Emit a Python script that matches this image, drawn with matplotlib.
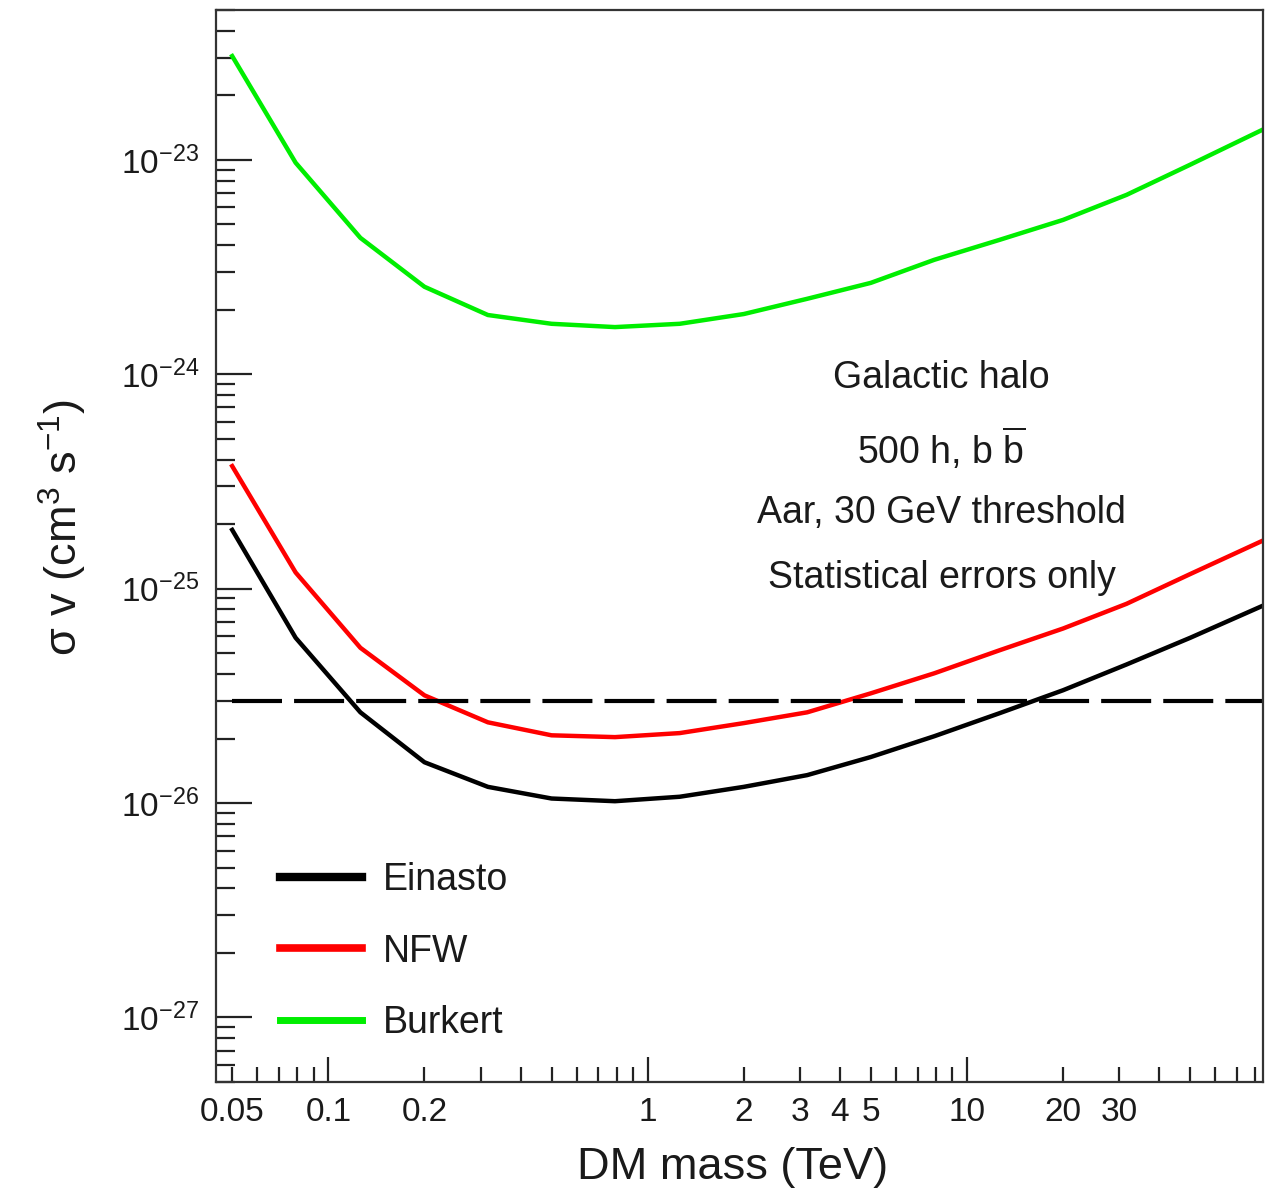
import matplotlib
matplotlib.use('Agg')
import matplotlib.pyplot as plt
from matplotlib.ticker import LogLocator, FixedLocator, FuncFormatter, NullFormatter
import numpy as np

plt.rcParams['font.family'] = ['Liberation Sans', 'DejaVu Sans']
plt.rcParams['mathtext.fontset'] = 'custom'
plt.rcParams['mathtext.rm'] = 'Liberation Sans'
plt.rcParams['mathtext.it'] = 'Liberation Sans:italic'
plt.rcParams['mathtext.bf'] = 'Liberation Sans:bold'

# DM mass (TeV)
mass = [0.05, 0.079, 0.126, 0.2, 0.316, 0.5, 0.79, 1.26, 2.0, 3.16, 5.0, 7.9, 12.6, 20.0, 31.6, 50.0, 84.0]

# <sigma v> upper limits (cm^3 s^-1)
einasto = [1.88e-25, 5.9e-26, 2.65e-26, 1.55e-26, 1.19e-26, 1.05e-26, 1.02e-26, 1.07e-26, 1.19e-26,
           1.35e-26, 1.64e-26, 2.05e-26, 2.62e-26, 3.36e-26, 4.43e-26, 5.9e-26, 8.3e-26]
nfw = [3.73e-25, 1.19e-25, 5.3e-26, 3.18e-26, 2.38e-26, 2.07e-26, 2.03e-26, 2.12e-26, 2.36e-26,
       2.65e-26, 3.25e-26, 4.03e-26, 5.15e-26, 6.52e-26, 8.5e-26, 1.17e-25, 1.67e-25]
burkert = [3.05e-23, 9.7e-24, 4.33e-24, 2.56e-24, 1.89e-24, 1.72e-24, 1.66e-24, 1.72e-24, 1.91e-24,
           2.25e-24, 2.67e-24, 3.42e-24, 4.23e-24, 5.25e-24, 6.87e-24, 9.5e-24, 1.38e-23]

thermal = 3e-26

x_major = [0.1, 1, 10]
x_minor_labels = [0.05, 0.2, 2, 3, 4, 5, 20, 30]
y_major = [1e-27, 1e-26, 1e-25, 1e-24, 1e-23]

fig = plt.figure(figsize=(12.76, 11.97), dpi=100)
ax = fig.add_axes([0.1693, 0.0961, 0.8205, 0.8955])

txt = '#1a1a1a'
l1, = ax.plot(mass, einasto, color='black', lw=3.2, label='Einasto')
l2, = ax.plot(mass, nfw, color='#ff0000', lw=3.2, label='NFW')
l3, = ax.plot(mass, burkert, color='#00ee00', lw=3.2, label='Burkert')
ax.hlines(thermal, mass[0], mass[-1], colors='black', lw=3.0, linestyles=[(0, (12, 2.9))])

ax.set_xscale('log')
ax.set_yscale('log')
ax.set_xlim(0.0445, 84.5)
ax.set_ylim(5e-28, 5e-23)

for s in ax.spines.values():
    s.set_linewidth(1.6)
    s.set_color('#333333')

ax.tick_params(which='both', direction='in', top=False, right=False, width=1.6, colors='#222222',
               labelsize=24, labelcolor=txt)
ax.tick_params(axis='y', which='major', length=26, pad=12)
ax.tick_params(axis='y', which='minor', length=14)
ax.tick_params(axis='x', which='major', length=18, pad=11)
ax.tick_params(axis='x', which='minor', length=11, pad=11)

ax.xaxis.set_major_locator(FixedLocator(x_major))
ax.xaxis.set_major_formatter(FuncFormatter(lambda v, p: '%g' % v))
ax.xaxis.set_minor_locator(LogLocator(base=10, subs=np.arange(2, 10), numticks=20))
ax.xaxis.set_minor_formatter(FuncFormatter(
    lambda v, p: ('%g' % v) if any(abs(v - m) < 1e-6 * m for m in x_minor_labels) else ''))

ax.yaxis.set_major_locator(FixedLocator(y_major))
ax.yaxis.set_major_formatter(FuncFormatter(lambda v, p: r'$\mathregular{10^{%d}}$' % round(np.log10(v))))
ax.yaxis.set_minor_locator(LogLocator(base=10, subs=np.arange(2, 10), numticks=20))
ax.yaxis.set_minor_formatter(NullFormatter())

ax.set_xlabel('DM mass (TeV)', fontsize=32.5, color=txt)
ax.xaxis.label.set_va('center')
ax.xaxis.set_label_coords(0.493, -0.0802)
ax.set_ylabel(r'σ v (cm$^{3}$ s$^{-1}$)', fontsize=32.5, color=txt)
ax.yaxis.label.set_va('center')
ax.yaxis.label.set_ha('center')
ax.yaxis.set_label_coords(-0.146, 0.517)

notes = ['Galactic halo', r'500 h, b $\overline{\mathrm{b}}$', 'Aar, 30 GeV threshold', 'Statistical errors only']
note_y = [0.657, 0.591, 0.531, 0.470]
for t, y in zip(notes, note_y):
    ax.text(0.693, y, t, transform=ax.transAxes, ha='center', va='center', fontsize=27, color=txt)

leg = ax.legend(handles=[l1, l2, l3], loc='lower left', bbox_to_anchor=(0.043, 0.0205), frameon=False,
                fontsize=27, handlelength=2.18, handletextpad=0.58, labelspacing=0.95, borderpad=0)
for h, w in zip(leg.legend_handles, [6.0, 5.5, 5.0]):
    h.set_linewidth(w)
for t in leg.get_texts():
    t.set_color(txt)

fig.savefig('out.png', dpi=100)
